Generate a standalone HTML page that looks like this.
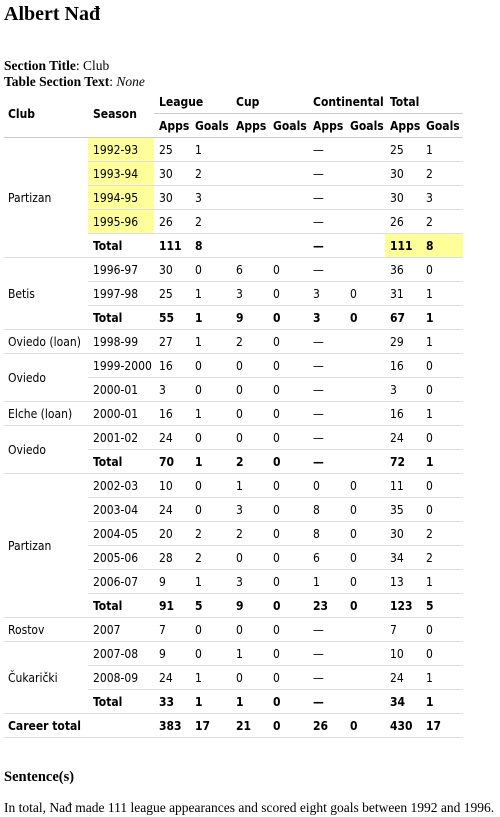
<!DOCTYPE html>
<html><head><meta charset="utf-8">
<style>
body{margin:0;width:500px;height:817px;background:#fff;font-family:"Liberation Serif",serif;color:#000;position:relative;overflow:hidden}
h1{position:absolute;left:4px;top:3px;margin:0;font-size:20px;font-weight:bold}
.meta{position:absolute;left:4px;top:58px;font-size:13.5px;line-height:16px}
table{position:absolute;left:4px;top:91px;border-collapse:collapse;table-layout:fixed;width:459px;font-family:"DejaVu Sans Condensed","DejaVu Sans","Liberation Sans",sans-serif;font-size:12px}
td,th{padding:0 0 0 5px;text-align:left;vertical-align:middle;white-space:nowrap;overflow:visible}
th{font-weight:bold}
tr.h1 th{height:22px;border-bottom:1px solid #ccc}
tr.h2 th{height:23px;border-bottom:1px solid #ccc}
tbody td{height:23px;border-bottom:1px solid #ddd}
tr.t td{font-weight:bold}
.y{background:#ffff99}
.c0{padding-left:4px}
h2{position:absolute;left:4px;top:769px;margin:0;font-size:14.5px;font-weight:bold}
p{position:absolute;left:4px;top:800px;margin:0;font-size:13.5px}
</style></head><body>
<h1>Albert Nađ</h1>
<div class="meta"><b>Section Title</b>: Club<br><b>Table Section Text</b>: <i>None</i></div>
<table>
<colgroup><col style="width:84px"><col style="width:66px"><col style="width:36px"><col style="width:41px"><col style="width:37px"><col style="width:40px"><col style="width:37px"><col style="width:40px"><col style="width:36px"><col style="width:42px"></colgroup>
<thead>
<tr class="h1"><th rowspan="2" class="c0">Club</th><th rowspan="2">Season</th><th colspan="2">League</th><th colspan="2">Cup</th><th colspan="2">Continental</th><th colspan="2">Total</th></tr>
<tr class="h2"><th>Apps</th><th>Goals</th><th>Apps</th><th>Goals</th><th>Apps</th><th>Goals</th><th>Apps</th><th>Goals</th></tr>
</thead>
<tbody>
<tr><td rowspan="5" class="c0">Partizan</td><td class="y">1992-93</td><td>25</td><td>1</td><td></td><td></td><td>—</td><td></td><td>25</td><td>1</td></tr>
<tr><td class="y">1993-94</td><td>30</td><td>2</td><td></td><td></td><td>—</td><td></td><td>30</td><td>2</td></tr>
<tr><td class="y">1994-95</td><td>30</td><td>3</td><td></td><td></td><td>—</td><td></td><td>30</td><td>3</td></tr>
<tr><td class="y">1995-96</td><td>26</td><td>2</td><td></td><td></td><td>—</td><td></td><td>26</td><td>2</td></tr>
<tr class="t"><td>Total</td><td>111</td><td>8</td><td></td><td></td><td>—</td><td></td><td class="y">111</td><td class="y">8</td></tr>
<tr><td rowspan="3" class="c0">Betis</td><td>1996-97</td><td>30</td><td>0</td><td>6</td><td>0</td><td>—</td><td></td><td>36</td><td>0</td></tr>
<tr><td>1997-98</td><td>25</td><td>1</td><td>3</td><td>0</td><td>3</td><td>0</td><td>31</td><td>1</td></tr>
<tr class="t"><td>Total</td><td>55</td><td>1</td><td>9</td><td>0</td><td>3</td><td>0</td><td>67</td><td>1</td></tr>
<tr><td class="c0">Oviedo (loan)</td><td>1998-99</td><td>27</td><td>1</td><td>2</td><td>0</td><td>—</td><td></td><td>29</td><td>1</td></tr>
<tr><td rowspan="2" class="c0">Oviedo</td><td>1999-2000</td><td>16</td><td>0</td><td>0</td><td>0</td><td>—</td><td></td><td>16</td><td>0</td></tr>
<tr><td>2000-01</td><td>3</td><td>0</td><td>0</td><td>0</td><td>—</td><td></td><td>3</td><td>0</td></tr>
<tr><td class="c0">Elche (loan)</td><td>2000-01</td><td>16</td><td>1</td><td>0</td><td>0</td><td>—</td><td></td><td>16</td><td>1</td></tr>
<tr><td rowspan="2" class="c0">Oviedo</td><td>2001-02</td><td>24</td><td>0</td><td>0</td><td>0</td><td>—</td><td></td><td>24</td><td>0</td></tr>
<tr class="t"><td>Total</td><td>70</td><td>1</td><td>2</td><td>0</td><td>—</td><td></td><td>72</td><td>1</td></tr>
<tr><td rowspan="6" class="c0">Partizan</td><td>2002-03</td><td>10</td><td>0</td><td>1</td><td>0</td><td>0</td><td>0</td><td>11</td><td>0</td></tr>
<tr><td>2003-04</td><td>24</td><td>0</td><td>3</td><td>0</td><td>8</td><td>0</td><td>35</td><td>0</td></tr>
<tr><td>2004-05</td><td>20</td><td>2</td><td>2</td><td>0</td><td>8</td><td>0</td><td>30</td><td>2</td></tr>
<tr><td>2005-06</td><td>28</td><td>2</td><td>0</td><td>0</td><td>6</td><td>0</td><td>34</td><td>2</td></tr>
<tr><td>2006-07</td><td>9</td><td>1</td><td>3</td><td>0</td><td>1</td><td>0</td><td>13</td><td>1</td></tr>
<tr class="t"><td>Total</td><td>91</td><td>5</td><td>9</td><td>0</td><td>23</td><td>0</td><td>123</td><td>5</td></tr>
<tr><td class="c0">Rostov</td><td>2007</td><td>7</td><td>0</td><td>0</td><td>0</td><td>—</td><td></td><td>7</td><td>0</td></tr>
<tr><td rowspan="3" class="c0">Čukarički</td><td>2007-08</td><td>9</td><td>0</td><td>1</td><td>0</td><td>—</td><td></td><td>10</td><td>0</td></tr>
<tr><td>2008-09</td><td>24</td><td>1</td><td>0</td><td>0</td><td>—</td><td></td><td>24</td><td>1</td></tr>
<tr class="t"><td>Total</td><td>33</td><td>1</td><td>1</td><td>0</td><td>—</td><td></td><td>34</td><td>1</td></tr>
<tr class="t"><td colspan="2" class="c0">Career total</td><td>383</td><td>17</td><td>21</td><td>0</td><td>26</td><td>0</td><td>430</td><td>17</td></tr>
</tbody>
</table>
<h2>Sentence(s)</h2>
<p>In total, Nađ made 111 league appearances and scored eight goals between 1992 and 1996.</p>
</body></html>
